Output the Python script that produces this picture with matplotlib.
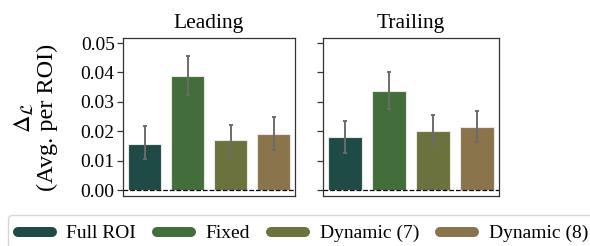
import matplotlib
matplotlib.use("Agg")
import matplotlib.pyplot as plt
from matplotlib.lines import Line2D
import numpy as np

# ------------------------------------------------------------
# DATEN
# ------------------------------------------------------------
methods = ["Full ROI", "Fixed", "Dynamic (7)", "Dynamic (8)"]
colors = ["#1f4b47", "#436d3a", "#6b723e", "#8a744b"]
panels = ["Leading", "Trailing"]

lead_mean = [0.0158, 0.0389, 0.0170, 0.0191]
lead_lo = [0.0105, 0.0324, 0.0116, 0.0135]
lead_hi = [0.0217, 0.0455, 0.0223, 0.0249]

trail_mean = [0.0181, 0.0338, 0.0202, 0.0213]
trail_lo = [0.0126, 0.0277, 0.0153, 0.0164]
trail_hi = [0.0234, 0.0403, 0.0254, 0.0270]

yticks = [0.00, 0.01, 0.02, 0.03, 0.04, 0.05]

plt.rcParams["font.family"] = ["Liberation Serif", "DejaVu Serif"]
plt.rcParams["mathtext.fontset"] = "stix"

fig = plt.figure(figsize=(5.9, 2.46), dpi=100)
W, H = 590, 246
ax1 = fig.add_axes([123 / W, 1 - 196 / H, 172 / W, 158 / H])
ax2 = fig.add_axes([323 / W, 1 - 196 / H, 176 / W, 158 / H], sharey=ax1)

data = [(lead_mean, lead_lo, lead_hi), (trail_mean, trail_lo, trail_hi)]
x = np.arange(len(methods))
for ax, title, (m, lo, hi) in zip([ax1, ax2], panels, data):
    m = np.array(m); lo = np.array(lo); hi = np.array(hi)
    ax.bar(x, m, width=0.78, color=colors, edgecolor="#e8e8e0", linewidth=0.8)
    ax.errorbar(x, m, yerr=[m - lo, hi - m], fmt="none", ecolor="#6b6b6b",
                elinewidth=1.4, capsize=1.6, capthick=1.4)
    ax.axhline(0, color="black", linestyle="--", linewidth=0.9)
    ax.set_xlim(-0.5, 3.5)
    ax.set_xticks([])
    ax.set_title(title, fontsize=15.5, pad=7)
    for s in ax.spines.values():
        s.set_color("#333333")
        s.set_linewidth(0.9)
    ax.tick_params(axis="y", length=4, width=0.9, colors="#333333",
                   labelcolor="black", labelsize=14, pad=2)

ax1.set_ylim(-0.002, 0.0517)
ax1.set_yticks(yticks)
ax1.set_yticklabels([f"{t:.2f}" for t in yticks])
ax2.tick_params(axis="y", labelleft=False)
ax1.set_ylabel("$\\Delta_{\\mathcal{L}}$\n(Avg. per ROI)", fontsize=17.5, linespacing=1.05,
               labelpad=16)

handles = [Line2D([0], [0], color=c, linewidth=7.2, solid_capstyle="round") for c in colors]
fig.legend(handles, methods, loc="upper left", ncol=4, mode="expand",
           bbox_to_anchor=(8 / W, 1 - 215 / H, 1.0, 0), bbox_transform=fig.transFigure,
           fontsize=14, frameon=True, edgecolor="#cccccc", fancybox=True,
           handlelength=1.75, handletextpad=0.75, borderaxespad=0, borderpad=0.5)

plt.savefig("out.png", dpi=100)
